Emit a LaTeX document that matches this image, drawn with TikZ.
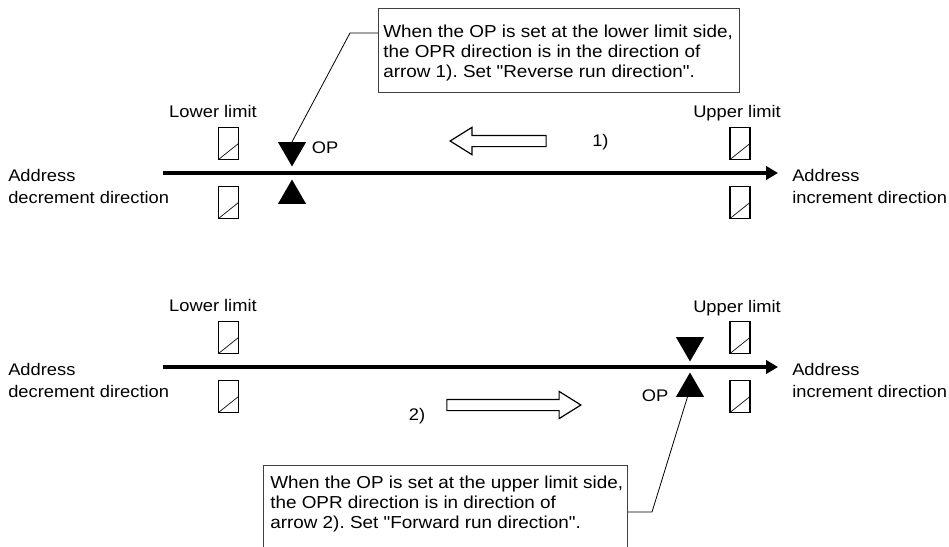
\documentclass[tikz,border=0pt]{standalone}
\usepackage{fontspec}
\newfontfamily\labelfont{Liberation Sans}[FakeStretch=1.09]
\usetikzlibrary{arrows.meta,shapes.geometric,shapes.arrows}
\frenchspacing

\tikzset{
  axis/.style={line width=2.3pt, -{Triangle[length=9pt,width=10pt]}},
  limsw/.style={draw, line width=1pt, inner sep=0pt, minimum width=15pt, minimum height=24pt,
    path picture={\draw[line width=0.5pt] (path picture bounding box.south west) -- (path picture bounding box.east);}},
  optri/.style={regular polygon, regular polygon sides=3, fill, inner sep=0pt, minimum size=24.3pt},
  hollow/.style={single arrow, draw, line width=0.9pt, inner xsep=0pt, inner ysep=3.75pt,
    single arrow head extend=6pt, single arrow tip angle=64},
  notebox/.style={draw=black!75, line width=0.8pt, inner sep=0pt},
  notetext/.style={inner sep=0pt, align=left, font=\labelfont\fontsize{13}{15}\selectfont},
  lbl/.style={inner sep=0pt, align=left, font=\labelfont\fontsize{12.6}{16.5}\selectfont},
  leader/.style={line width=0.6pt}
}

\begin{document}
\begin{tikzpicture}[x=0.75pt, y=-0.75pt]
    \clip (0,0) rectangle (949,546);

    % reverse run direction
    \coordinate (ax1w) at (163,173);
    \coordinate (ax1e) at (778,173);
    \draw[axis] (ax1w) -- (ax1e);

    \node[lbl, anchor=north west] (dec1) at (8,169.5) {Address\\decrement direction};
    \node[lbl, anchor=north west] (inc1) at (792,169.5) {Address\\increment direction};

    \node[lbl, anchor=base] (lolab1) at (213,117) {Lower limit};
    \node[lbl, anchor=base] (uplab1) at (737,117) {Upper limit};
    \node[limsw] (lo1a) at (228.5,143.5) {};
    \node[limsw] (lo1b) at (228.5,202.5) {};
    \node[limsw] (up1a) at (740,143.5) {};
    \node[limsw] (up1b) at (740,202.5) {};

    \node[notebox, minimum width=270.75pt, minimum height=63pt, anchor=north west] (box1) at (378,8) {};
    \node[notetext, anchor=north west] (note1) at (383,24.5)
        {When the OP is set at the lower limit side,\\
         the OPR direction is in the direction of\\
         arrow 1). Set "Reverse run direction".};
    \coordinate (k1) at (350,33);

    \node[optri, shape border rotate=180, anchor=corner 1] (opd1) at (292,167) {};
    \node[optri, anchor=corner 1] (opu1) at (292,179) {};
    \node[lbl] (op1) at (325,148) {OP};
    \draw[leader] (box1.west |- k1) -- (k1) -- (opd1.north);

    \node[hollow, shape border rotate=180, minimum height=72pt, anchor=tip] (arr1) at (449,141) {};
    \node[lbl, anchor=west] (num1) at (592,142) {1)};

    % forward run direction
    \coordinate (ax2w) at (163,367);
    \coordinate (ax2e) at (778,367);
    \draw[axis] (ax2w) -- (ax2e);

    \node[lbl, anchor=north west] (dec2) at (8,363.5) {Address\\decrement direction};
    \node[lbl, anchor=north west] (inc2) at (792,363.5) {Address\\increment direction};

    \node[lbl, anchor=base] (lolab2) at (213,311) {Lower limit};
    \node[lbl, anchor=base] (uplab2) at (737,312) {Upper limit};
    \node[limsw] (lo2a) at (228.5,337.5) {};
    \node[limsw] (lo2b) at (228.5,396.5) {};
    \node[limsw] (up2a) at (740,337.5) {};
    \node[limsw] (up2b) at (740,396.5) {};

    \node[notebox, minimum width=273pt, minimum height=80pt, anchor=north west] (box2) at (263,465) {};
    \node[notetext, anchor=north west] (note2) at (270,475.5)
        {When the OP is set at the upper limit side,\\
         the OPR direction is in direction of\\
         arrow 2). Set "Forward run direction".};
    \coordinate (k2) at (652,512);

    \node[optri, shape border rotate=180, anchor=corner 1] (opd2) at (690,362) {};
    \node[optri, anchor=corner 1] (opu2) at (690,372) {};
    \node[lbl] (op2) at (655,396) {OP};
    \draw[leader] (box2.east |- k2) -- (k2) -- (opu2);

    \node[hollow, minimum height=100.5pt, anchor=tip] (arr2) at (582,405) {};
    \node[lbl] (num2) at (417,416) {2)};
\end{tikzpicture}
\end{document}
